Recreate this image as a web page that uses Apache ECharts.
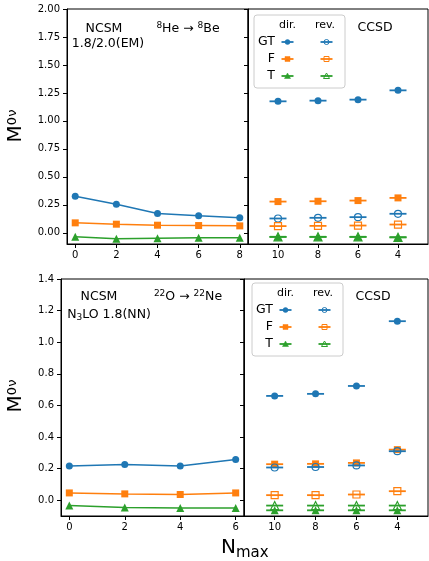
<!DOCTYPE html>
<html>
<head>
<meta charset="utf-8">
<title>M0v NCSM / CCSD</title>
<script src="https://cdn.jsdelivr.net/npm/echarts@6/dist/echarts.min.js"></script>
<style>
  html, body { margin: 0; padding: 0; background: #fff; }
  #main { width: 429px; height: 561px; }
</style>
</head>
<body>
<div id="main"></div>
<script>
// ---- data: 8He -> 8Be ----
var ncsmX_He = [0, 2, 4, 6, 8];
var ncsmGT_He = [0.327, 0.255, 0.172, 0.152, 0.134];
var ncsmF_He = [0.089, 0.077, 0.068, 0.065, 0.062];
var ncsmT_He = [-0.036, -0.054, -0.048, -0.045, -0.045];

var ccsdX = [10, 8, 6, 4];
var ccsdGTdir_He = [1.175, 1.181, 1.190, 1.273];
var ccsdFdir_He = [0.279, 0.282, 0.288, 0.312];
var ccsdTdir_He = [-0.036, -0.036, -0.036, -0.040];
var ccsdGTrev_He = [0.128, 0.134, 0.140, 0.170];
var ccsdFrev_He = [0.060, 0.062, 0.065, 0.074];
var ccsdTrev_He = [-0.036, -0.036, -0.036, -0.040];

// ---- data: 22O -> 22Ne ----
var ncsmX_O = [0, 2, 4, 6];
var ncsmGT_O = [0.217, 0.226, 0.217, 0.257];
var ncsmF_O = [0.046, 0.040, 0.036, 0.046];
var ncsmT_O = [-0.034, -0.046, -0.050, -0.050];

var ccsdGTdir_O = [0.660, 0.673, 0.723, 1.133];
var ccsdFdir_O = [0.228, 0.230, 0.236, 0.320];
var ccsdTdir_O = [-0.064, -0.064, -0.064, -0.064];
var ccsdGTrev_O = [0.207, 0.210, 0.220, 0.310];
var ccsdFrev_O = [0.032, 0.032, 0.036, 0.057];
var ccsdTrev_O = [-0.034, -0.034, -0.034, -0.034];

// ---- ticks ----
var xTicks_He = [0, 2, 4, 6, 8];
var xTicks_O = [0, 2, 4, 6];
var xTicksCCSD = [10, 8, 6, 4];
var yTicksTop = [0, 0.25, 0.5, 0.75, 1.0, 1.25, 1.5, 1.75, 2.0];
var yTicksBottom = [0, 0.2, 0.4, 0.6, 0.8, 1.0, 1.2, 1.4];

var C_GT = '#1f77b4', C_F = '#ff7f0e', C_T = '#2ca02c';
var FONT = 'DejaVu Sans';

var myChart = echarts.init(document.getElementById('main'));

function zip(xs, ys) {
    return xs.map(function (x, i) { return [x, ys[i]]; });
}

function symSize(symbol) {
    return symbol === 'triangle' ? 8 : 7;
}

// NCSM: line with markers
function ncsm(name, xs, ys, color, symbol, idx) {
    return {
        name: name, type: 'line', xAxisIndex: idx, yAxisIndex: idx,
        data: zip(xs, ys), symbol: symbol, symbolSize: symSize(symbol),
        showAllSymbol: true,
        lineStyle: { color: color, width: 1.5 },
        itemStyle: { color: color },
        emphasis: { disabled: true }
    };
}

// CCSD: horizontal bar + marker (filled = dir, hollow = rev)
function ccsd(name, xs, ys, color, symbol, filled, idx) {
    var bar = {
        name: name + ' bar', type: 'scatter', xAxisIndex: idx, yAxisIndex: idx,
        data: zip(xs, ys), symbol: 'rect', symbolSize: [17, 1.8],
        itemStyle: { color: color, opacity: 1 }, silent: true
    };
    var mark = {
        name: name, type: 'scatter', xAxisIndex: idx, yAxisIndex: idx,
        data: zip(xs, ys), symbol: symbol, symbolSize: symSize(symbol),
        itemStyle: filled ? { color: color, opacity: 1 }
            : { color: 'rgba(255,255,255,0)', borderColor: color, borderWidth: 1.2, opacity: 1 },
        emphasis: { disabled: true }
    };
    return [bar, mark];
}

var series = [
    ncsm('GT', ncsmX_He, ncsmGT_He, C_GT, 'circle', 0),
    ncsm('F', ncsmX_He, ncsmF_He, C_F, 'rect', 0),
    ncsm('T', ncsmX_He, ncsmT_He, C_T, 'triangle', 0),
    ncsm('GT', ncsmX_O, ncsmGT_O, C_GT, 'circle', 2),
    ncsm('F', ncsmX_O, ncsmF_O, C_F, 'rect', 2),
    ncsm('T', ncsmX_O, ncsmT_O, C_T, 'triangle', 2)
].concat(
    ccsd('GT dir', ccsdX, ccsdGTdir_He, C_GT, 'circle', true, 1),
    ccsd('F dir', ccsdX, ccsdFdir_He, C_F, 'rect', true, 1),
    ccsd('T dir', ccsdX, ccsdTdir_He, C_T, 'triangle', true, 1),
    ccsd('GT rev', ccsdX, ccsdGTrev_He, C_GT, 'circle', false, 1),
    ccsd('F rev', ccsdX, ccsdFrev_He, C_F, 'rect', false, 1),
    ccsd('T rev', ccsdX, ccsdTrev_He, C_T, 'triangle', false, 1),
    ccsd('GT dir', ccsdX, ccsdGTdir_O, C_GT, 'circle', true, 3),
    ccsd('F dir', ccsdX, ccsdFdir_O, C_F, 'rect', true, 3),
    ccsd('T dir', ccsdX, ccsdTdir_O, C_T, 'triangle', true, 3),
    ccsd('GT rev', ccsdX, ccsdGTrev_O, C_GT, 'circle', false, 3),
    ccsd('F rev', ccsdX, ccsdFrev_O, C_F, 'rect', false, 3),
    ccsd('T rev', ccsdX, ccsdTrev_O, C_T, 'triangle', false, 3)
);

function xAxis(idx, min, max, ticks, inverse) {
    return {
        type: 'value', gridIndex: idx, min: min, max: max, inverse: !!inverse,
        splitLine: { show: false },
        axisLine: { show: true, onZero: false, lineStyle: { color: '#000', width: 1 } },
        axisTick: { show: true, length: 4, customValues: ticks, lineStyle: { color: '#000' } },
        axisLabel: { show: true, customValues: ticks, margin: 6, color: '#000', fontSize: 10, fontFamily: FONT }
    };
}
function yAxis(idx, min, max, ticks, digits, showLabel) {
    return {
        type: 'value', gridIndex: idx, min: min, max: max,
        splitLine: { show: false },
        axisLine: { show: true, onZero: false, lineStyle: { color: '#000', width: 1 } },
        axisTick: { show: true, length: 4, customValues: ticks, lineStyle: { color: '#000' } },
        axisLabel: {
            show: showLabel, customValues: ticks, margin: 7, color: '#000', fontSize: 10, fontFamily: FONT,
            formatter: function (v) { return v.toFixed(digits); }
        }
    };
}

var gridStyle = { show: true, borderColor: '#000', borderWidth: 1, backgroundColor: 'transparent' };
var grids = [
    Object.assign({ left: 67, top: 9, width: 181, height: 235 }, gridStyle),
    Object.assign({ left: 248, top: 9, width: 180, height: 235 }, gridStyle),
    Object.assign({ left: 61, top: 279, width: 183, height: 237 }, gridStyle),
    Object.assign({ left: 244, top: 279, width: 184, height: 237 }, gridStyle)
];

function txt(x, y, s, size, extra) {
    var st = { text: s, fontSize: size, fontFamily: FONT, fill: '#000', align: 'center', verticalAlign: 'middle' };
    if (extra) Object.assign(st, extra);
    return { type: 'text', x: x, y: y, z: 100, style: st };
}

// legend-like key drawn as graphics
function legendBox(x0, y0) {
    var els = [];
    els.push({
        type: 'rect', z: 90, shape: { x: x0, y: y0, width: 91, height: 73, r: 3 },
        style: { fill: 'rgba(255,255,255,0.8)', stroke: '#cccccc', lineWidth: 1 }
    });
    els.push(txt(x0 + 33.5, y0 + 10, 'dir.', 11));
    els.push(txt(x0 + 71, y0 + 10, 'rev.', 11));
    var labels = ['GT', 'F', 'T'];
    var colors = [C_GT, C_F, C_T];
    for (var i = 0; i < 3; i++) {
        var cy = y0 + 27 + 17 * i;
        els.push(txt(x0 + 21, cy, labels[i], 12.5, { align: 'right' }));
        [x0 + 33.5, x0 + 72.5].forEach(function (cx, j) {
            var c = colors[i];
            var st = j === 0 ? { fill: c, stroke: c, lineWidth: 0.5 } : { fill: 'none', stroke: c, lineWidth: 1 };
            els.push({ type: 'line', z: 100, shape: { x1: cx - 6, y1: cy, x2: cx + 6, y2: cy }, style: { stroke: c, lineWidth: 1.8 } });
            if (i === 0) els.push({ type: 'circle', z: 101, shape: { cx: cx, cy: cy, r: 2.5 }, style: st });
            if (i === 1) els.push({ type: 'rect', z: 101, shape: { x: cx - 2.5, y: cy - 2.5, width: 5, height: 5 }, style: st });
            if (i === 2) els.push({ type: 'polygon', z: 101, shape: { points: [[cx, cy - 3], [cx - 3, cy + 2.5], [cx + 3, cy + 2.5]] }, style: st });
        });
    }
    return els;
}

// superscript / subscript via padded rich tokens
var richM = {
    m: { fontSize: 20, fontFamily: FONT, fill: '#000' },
    s: { fontSize: 13, fontFamily: FONT, fill: '#000', padding: [0, 0, 7, 0] }
};
var richSup = { s: { fontSize: 9, fontFamily: FONT, fill: '#000', padding: [0, 0, 6, 0] } };
var richSub = { b: { fontSize: 9, fontFamily: FONT, fill: '#000', padding: [5, 0, 0, 0] } };

var graphics = [
    txt(104, 29, 'NCSM', 12.5),
    txt(108, 44, '1.8/2.0(EM)', 12.5),
    txt(188, 29, '{s|8}He \u2192 {s|8}Be', 12.5, { rich: richSup }),
    txt(375, 28, 'CCSD', 12.5),
    txt(99, 297, 'NCSM', 12.5),
    txt(109, 315, 'N{b|3}LO 1.8(NN)', 12.5, { rich: richSub }),
    txt(188, 297, '{s|22}O \u2192 {s|22}Ne', 12.5, { rich: richSup }),
    txt(373, 297, 'CCSD', 12.5),
    { type: 'text', x: 16, y: 126, rotation: Math.PI / 2, z: 100,
      style: { text: '{m|M}{s|0\u03bd}', rich: richM, align: 'center', verticalAlign: 'middle' } },
    { type: 'text', x: 16, y: 396, rotation: Math.PI / 2, z: 100,
      style: { text: '{m|M}{s|0\u03bd}', rich: richM, align: 'center', verticalAlign: 'middle' } },
    txt(221, 548, 'N', 20, { align: 'left' }),
    txt(236, 553, 'max', 15, { align: 'left' })
].concat(legendBox(254, 15), legendBox(252, 283));

var option = {
    animation: false,
    backgroundColor: '#fff',
    grid: grids,
    xAxis: [
        xAxis(0, -0.4, 8.4, xTicks_He),
        xAxis(1, 2.5, 11.5, xTicksCCSD, true),
        xAxis(2, -0.3, 6.3, xTicks_O),
        xAxis(3, 2.5, 11.5, xTicksCCSD, true)
    ],
    yAxis: [
        yAxis(0, -0.1, 2.0, yTicksTop, 2, true),
        yAxis(1, -0.1, 2.0, yTicksTop, 2, false),
        yAxis(2, -0.1, 1.4, yTicksBottom, 1, true),
        yAxis(3, -0.1, 1.4, yTicksBottom, 1, false)
    ],
    series: series,
    graphic: graphics
};
myChart.setOption(option);
</script>
</body>
</html>
